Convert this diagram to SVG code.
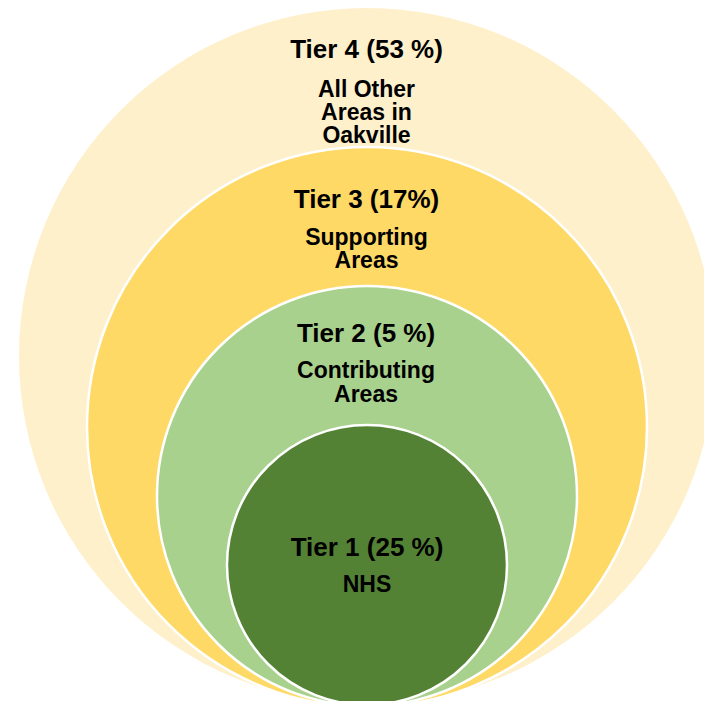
<svg xmlns="http://www.w3.org/2000/svg" width="704" height="701" viewBox="0 0 704 701">
<style>
.ring{stroke:#ffffff;stroke-width:2.5}
.t{font-family:"Liberation Sans",Arial,sans-serif;font-weight:bold;fill:#000000;text-anchor:middle}
.h{font-size:26px}
.s{font-size:23px}
</style>
<rect x="0" y="0" width="704" height="701" fill="#ffffff"/>
<g id="tier4">
<circle cx="367" cy="356" r="348" fill="#FFF0CC"/>
<text class="t h" x="366.5" y="58">Tier 4 (53 %)</text>
<text class="t s" x="366.5" y="96.5">All Other</text>
<text class="t s" x="366.5" y="120">Areas in</text>
<text class="t s" x="366.5" y="143">Oakville</text>
</g>
<g id="tier3">
<circle class="ring" cx="367" cy="427" r="280" fill="#FFD966"/>
<text class="t h" x="366.5" y="207.5">Tier 3 (17%)</text>
<text class="t s" x="366.5" y="245">Supporting</text>
<text class="t s" x="366.5" y="268">Areas</text>
</g>
<g id="tier2">
<circle class="ring" cx="367" cy="496" r="210" fill="#A9D18E"/>
<text class="t h" x="366" y="341.5">Tier 2 (5 %)</text>
<text class="t s" x="366" y="378">Contributing</text>
<text class="t s" x="366" y="401.5">Areas</text>
</g>
<g id="tier1">
<circle class="ring" cx="367" cy="565" r="140" fill="#548235"/>
<text class="t h" x="367" y="556">Tier 1 (25 %)</text>
<text class="t s" x="367" y="591.5">NHS</text>
</g>
<g id="connectors"></g>
</svg>
